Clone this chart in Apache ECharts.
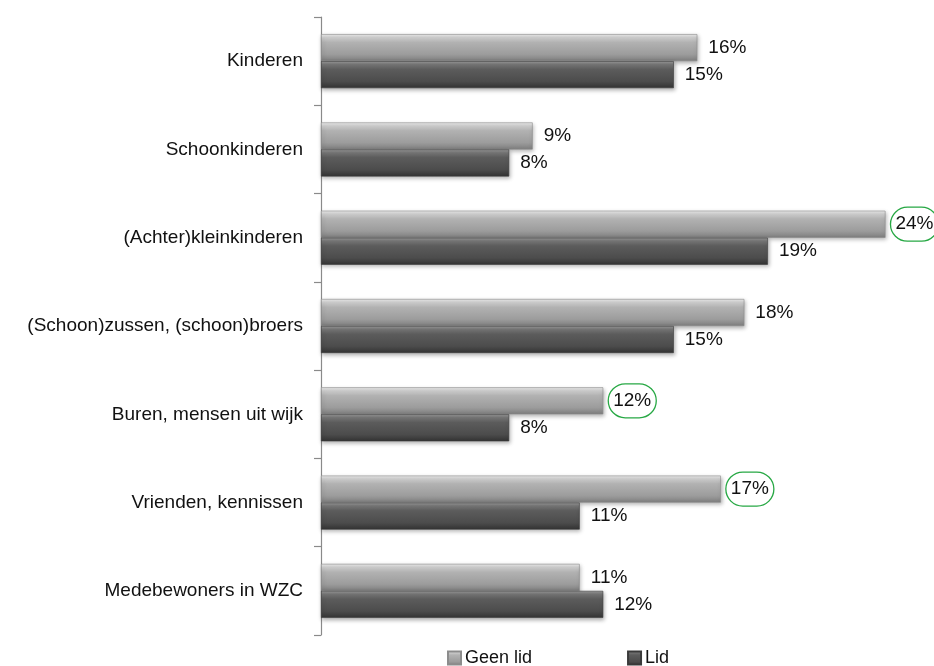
<!DOCTYPE html>
<html>
<head>
<meta charset="utf-8">
<script src="https://cdn.jsdelivr.net/npm/echarts@6/dist/echarts.min.js"></script>
<style>
  html, body { margin: 0; padding: 0; background: #fff; }
  #chart { width: 934px; height: 666px; }
</style>
</head>
<body>
<div id="chart"></div>
<script>
// Categories of people, top to bottom
const categories = [
  'Kinderen',
  'Schoonkinderen',
  '(Achter)kleinkinderen',
  '(Schoon)zussen, (schoon)broers',
  'Buren, mensen uit wijk',
  'Vrienden, kennissen',
  'Medebewoners in WZC'
];
const seriesNames = ['Geen lid', 'Lid'];
// Percentages per category
const geenLid = [16, 9, 24, 18, 12, 17, 11];
const lid = [15, 8, 19, 15, 8, 11, 12];
// Categories whose "Geen lid" value is ringed
const highlighted = ['(Achter)kleinkinderen', 'Buren, mensen uit wijk', 'Vrienden, kennissen'];

const FONT = 'Liberation Sans, Arial, sans-serif';

function grad(stops) {
  return new echarts.graphic.LinearGradient(0, 0, 0, 1,
    stops.map(([offset, color]) => ({ offset, color })));
}
const lightFill = grad([[0, '#eeeeee'], [0.12, '#d0d0d0'], [0.3, '#b2b2b2'], [0.75, '#9c9c9c'], [1, '#7e7e7e']]);
const darkFill = grad([[0, '#9a9a9a'], [0.12, '#777777'], [0.3, '#5c5c5c'], [0.75, '#4c4c4c'], [1, '#333333']]);

const baseLabel = {
  show: true,
  position: 'right',
  distance: 11,
  color: '#111',
  fontFamily: FONT,
  fontSize: 19,
  formatter: p => p.value + '%'
};

const geenLidData = geenLid.map((v, i) => {
  if (!highlighted.includes(categories[i])) return v;
  return {
    value: v,
    label: {
      distance: 5,
      borderColor: '#27a844',
      borderWidth: 1.3,
      borderRadius: 22,
      padding: [8, 5, 7, 5]
    }
  };
});

const shadow = { shadowColor: 'rgba(0,0,0,0.3)', shadowBlur: 4, shadowOffsetY: 2, shadowOffsetX: 1 };

const chart = echarts.init(document.getElementById('chart'), null, { renderer: 'canvas' });
chart.setOption({
  animation: false,
  backgroundColor: '#ffffff',
  textStyle: { fontFamily: FONT },
  grid: { left: 321, right: 25, top: 17, bottom: 31, containLabel: false },
  legend: {
    data: seriesNames,
    left: 442,
    top: 644,
    itemWidth: 13,
    itemHeight: 13,
    itemGap: 95,
    icon: 'rect',
    textStyle: { fontFamily: FONT, fontSize: 18, color: '#111', padding: [0, 0, 0, -1] }
  },
  xAxis: {
    type: 'value',
    min: 0,
    max: 25,
    show: false
  },
  yAxis: {
    type: 'category',
    data: categories,
    inverse: true,
    axisLine: { show: true, lineStyle: { color: '#8a8a8a', width: 1.2 } },
    axisTick: { show: true, length: 7, lineStyle: { color: '#8a8a8a', width: 1.2 } },
    axisLabel: { color: '#111', fontFamily: FONT, fontSize: 19, margin: 18 },
    splitLine: { show: false }
  },
  series: [
    {
      name: seriesNames[0],
      type: 'bar',
      data: geenLidData,
      barWidth: 27,
      barGap: '0%',
      itemStyle: Object.assign({ color: lightFill, borderColor: '#8c8c8c', borderWidth: 0.6 }, shadow),
      label: baseLabel
    },
    {
      name: seriesNames[1],
      type: 'bar',
      data: lid,
      barWidth: 27,
      barGap: '0%',
      itemStyle: Object.assign({ color: darkFill, borderColor: '#3a3a3a', borderWidth: 0.6 }, shadow),
      label: baseLabel
    }
  ]
});
</script>
</body>
</html>
